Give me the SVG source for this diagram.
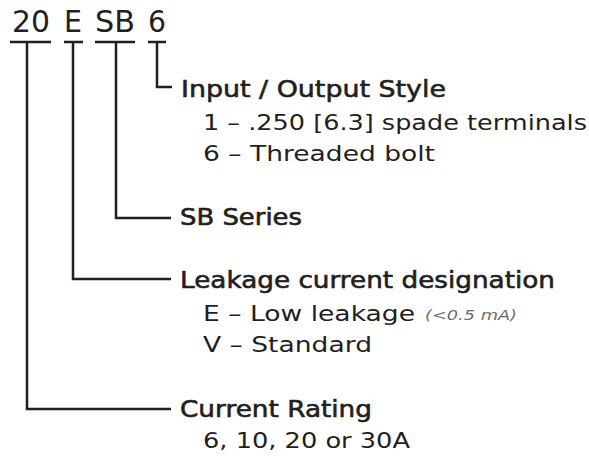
<svg xmlns="http://www.w3.org/2000/svg" width="589" height="456" viewBox="0 0 589 456">
<style>
text{font-family:"DejaVu Sans","Liberation Sans",sans-serif;fill:#231f20}
.code{font-size:31px}
.head{font-size:23.5px;stroke:#231f20;stroke-width:0.6}
.sub{font-size:21px}
.note{font-size:14px;font-style:italic;fill:#6d6d6d}
.ln{fill:none;stroke:#231f20;stroke-width:2.5;stroke-linecap:butt;stroke-linejoin:miter}
</style>
<rect width="589" height="456" fill="#fff"/>
<g id="code">
<text class="code" x="12" y="32" textLength="38" lengthAdjust="spacingAndGlyphs">20</text>
<text class="code" x="64" y="32" textLength="18" lengthAdjust="spacingAndGlyphs">E</text>
<text class="code" x="95" y="32" textLength="40" lengthAdjust="spacingAndGlyphs">SB</text>
<text class="code" x="148" y="32" textLength="18" lengthAdjust="spacingAndGlyphs">6</text>
</g>
<g id="connectors">
<path class="ln" d="M10 42H51M27 42V409H171"/>
<path class="ln" d="M64 42H83M73 42V279H171"/>
<path class="ln" d="M95 42H135M116 42V218H171"/>
<path class="ln" d="M148 42H166M157 42V87H172"/>
</g>
<g id="io-style">
<text class="head" x="181" y="97" textLength="265" lengthAdjust="spacingAndGlyphs">Input / Output Style</text>
<text class="sub" x="203" y="130" textLength="384" lengthAdjust="spacingAndGlyphs">1 – .250 [6.3] spade terminals</text>
<text class="sub" x="203" y="161" textLength="232" lengthAdjust="spacingAndGlyphs">6 – Threaded bolt</text>
</g>
<g id="sb-series">
<text class="head" x="180" y="225" textLength="122" lengthAdjust="spacingAndGlyphs">SB Series</text>
</g>
<g id="leakage">
<text class="head" x="180" y="288" textLength="375" lengthAdjust="spacingAndGlyphs">Leakage current designation</text>
<text class="sub" x="203" y="321" textLength="212" lengthAdjust="spacingAndGlyphs">E – Low leakage</text>
<text class="note" x="425" y="320" textLength="92" lengthAdjust="spacingAndGlyphs">(&lt;0.5 mA)</text>
<text class="sub" x="203" y="352" textLength="169" lengthAdjust="spacingAndGlyphs">V – Standard</text>
</g>
<g id="rating">
<text class="head" x="180" y="417" textLength="192" lengthAdjust="spacingAndGlyphs">Current Rating</text>
<text class="sub" x="203" y="448" textLength="207" lengthAdjust="spacingAndGlyphs">6, 10, 20 or 30A</text>
</g>
</svg>
